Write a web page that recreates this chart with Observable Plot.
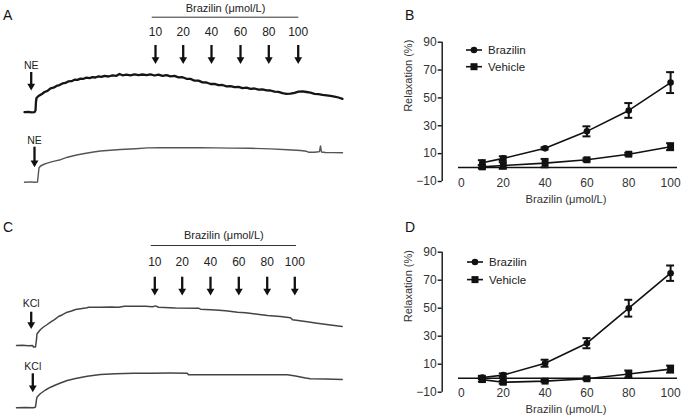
<!DOCTYPE html>
<html><head><meta charset="utf-8">
<script src="https://cdn.jsdelivr.net/npm/d3@7"></script>
<script src="https://cdn.jsdelivr.net/npm/@observablehq/plot@0.6"></script>
<style>
body{margin:0;background:#fff;}
#fig{position:relative;width:685px;height:419px;background:#fff;font-family:"Liberation Sans",Arial,sans-serif;color:#222;overflow:hidden;}
.panel{position:absolute;}
.letter{position:absolute;font-size:14px;line-height:1;color:#111;}
</style></head><body><div id="fig"></div>
<script>
// ---------- DATA ----------
const concentrations = [10, 20, 40, 60, 80, 100];
const xTicks = [0, 20, 40, 60, 80, 100];
const yTicks = [-10, 10, 30, 50, 70, 90];

// Panel B (NE pre-contracted) relaxation %, mean and error
const brazilinB = [3.5, 6.6, 13.8, 26, 41, 61];
const brazilinBErr = [1.8, 1.5, 0.8, 3.6, 5.3, 7.5];
const vehicleB = [0.5, 1.5, 3.2, 5.6, 9.6, 15];
const vehicleBErr = [1.2, 2.4, 3, 1, 1, 2.5];

// Panel D (KCl pre-contracted)
const brazilinD = [0.5, 2.2, 10.7, 25, 50, 75];
const brazilinDErr = [1.2, 1.2, 2.5, 3.6, 6, 5.5];
const vehicleD = [-1, -2.9, -2.1, -0.4, 3, 6.5];
const vehicleDErr = [1.5, 1, 0.8, 0.8, 2.5, 2.5];

// Panel A traces: [time, tension]
const traceA_brazilin = [[24,93.3],[28,93.6],[31,93.1],[34,93.4],[35,95],[35.5,104],[36,107.5],[38,109.5],[41,111.2],[44,113.5],[47,114.6],[50,117.2],[53,117.8],[56,119.6],[59,120.4],[62,122.1],[65,122.6],[68,124.2],[71,124.3],[74,125.8],[77,125.6],[80,126.9],[83,126.7],[86,127.9],[89,127.4],[92,128.4],[95,128.0],[98,129.2],[101,128.6],[104,129.6],[108,129.0],[112,130.1],[116,129.7],[119,131.5],[122,130.2],[126,130.8],[130,130.1],[134,131.2],[138,130.4],[142,131.0],[146,130.3],[150,131.2],[154,130.0],[158,130.9],[162,129.6],[166,130.4],[170,129.2],[174,129.6],[178,128.2],[182,128.3],[186,126.7],[190,126.6],[194,124.8],[198,124.9],[202,123.1],[206,123.0],[210,121.5],[214,121.7],[218,120.3],[222,120.5],[226,119.2],[230,119.4],[234,118.3],[238,118.6],[242,117.4],[246,117.8],[250,116.6],[254,117.0],[258,115.8],[262,116.1],[266,115.2],[270,115.0],[274,113.9],[278,113.6],[282,112.3],[286,111.6],[290,111.9],[294,112.6],[298,113.8],[302,114.2],[306,113.5],[310,112.8],[314,111.7],[318,111.4],[322,110.6],[326,110.2],[330,109.6],[334,108.9],[338,108.0],[342,106.6]];
const traceA_vehicle = [[24,23.3],[30,23.6],[34,23.2],[37,23.5],[38,33],[38.5,37.5],[40,39.5],[43,41],[46,42.2],[50,43.3],[55,44.6],[60,45.8],[67,48.3],[75,50.3],[80,51.2],[87,52.5],[93,53.5],[100,54.5],[110,55.3],[120,56],[135,56.8],[147,57.6],[160,57.7],[175,57.8],[200,57.7],[215,57.6],[230,57.4],[250,57.2],[270,56.6],[287,55.7],[300,55],[306,54.2],[308,53.3],[314,53.3],[318,53.8],[319,54],[320,59.5],[321,53.5],[325,53],[333,52.9],[342,52.7]];

// Panel C traces
const traceC_brazilin = [[16,74],[22,74.2],[28,73.8],[32,74.1],[33,72.5],[35,72.5],[36,80],[36.5,85.7],[38,87.5],[40,90],[43,92.5],[46,94.5],[50,97.3],[54,99.8],[58,103],[62,104.8],[66.7,107.3],[71,108.5],[75,110],[80,110.8],[86.7,111.7],[88,112.3],[100,112.3],[110,112.5],[118,112.3],[124,113.3],[128,113.3],[133,113.3],[145,113.3],[152,112.8],[155,113.6],[158,112.3],[175,111.5],[198,111.3],[200,110.3],[215,109.5],[225,108.7],[237,107.3],[245,106.8],[255,105.5],[267,104],[280,103],[290,101.7],[292,99.7],[305,98],[316.7,96.3],[330,94.5],[341.7,93]];
const traceC_vehicle = [[16,11.7],[25,11.9],[33,11.7],[35,12.5],[36,20],[36.5,22.3],[38,24],[40,26],[45,29.5],[50,32.3],[55,34.5],[60,36.5],[66.7,39],[75,41],[86.7,43.3],[100,45],[115,45.8],[133,46.3],[150,46.3],[170,46.5],[186.7,46.3],[188,44.7],[220,44.7],[250,44.7],[286.7,44.7],[295,43.5],[305,41.5],[310,40.7],[325,40.5],[341.7,40]];

// Addition times of brazilin doses
const doseTimesA = [155, 182.7, 211, 240, 268.3, 297.7];
const doseTimesC = [154.3, 181.7, 210, 238.3, 266.7, 294.3];

// Agonist additions
const agonistA = [{label: "NE", t: 30.7, top: 133, bottom: 115, textY: 140}, {label: "NE", t: 34, top: 58.3, bottom: 38.3, textY: 65}];
const agonistC = [{label: "KCl", t: 30.7, top: 107.3, bottom: 90.7, textY: 116.3}, {label: "KCl", t: 32.3, top: 45.7, bottom: 27.3, textY: 53}];

// Annotation levels (tension units)
const levelsA = {title: 196.7, bracket: 188.3, bracketFrom: 151.7, bracketTo: 298.3, label: 173.3, arrowTop: 160, arrowBottom: 141.7};
const levelsC = {title: 184, bracket: 174, bracketFrom: 150.7, bracketTo: 296, label: 157.3, arrowTop: 142.3, arrowBottom: 124};

const fig = document.getElementById("fig");
function place(el, left, top) {
  const d = document.createElement("div");
  d.className = "panel"; d.style.left = left + "px"; d.style.top = top + "px";
  d.appendChild(el); fig.appendChild(d); return d;
}
const ink = "#111";
const font = "Liberation Sans, Arial, sans-serif";

function arrowMarks(items, fill) {
  return [
    Plot.ruleX(items, {x: "t", y1: "top", y2: d => d.bottom + 4, stroke: fill, strokeWidth: 2.3}),
    Plot.dot(items, {x: "t", y: "bottom", symbol: "triangle", rotate: 180, r: 2.9, fill: fill, stroke: "none", dy: -4.4})
  ];
}

function traceChart(upper, lower, upperStyle, lowerStyle, doseTimes, levels, agonists, height) {
  const doses = concentrations.map((c, i) => ({c, t: doseTimes[i], top: levels.arrowTop, bottom: levels.arrowBottom}));
  const toRows = tr => tr.map(([t, v]) => ({t, v}));
  return Plot.plot({
    width: 360, height, margin: 0,
    x: {domain: [0, 360], axis: null},
    y: {domain: [0, height], axis: null},
    style: {background: "transparent", overflow: "visible"},
    marks: [
      Plot.line(toRows(upper), {x: "t", y: "v", ...upperStyle}),
      Plot.line(toRows(lower), {x: "t", y: "v", ...lowerStyle}),
      Plot.ruleY([levels.bracket], {x1: levels.bracketFrom, x2: levels.bracketTo, stroke: "#333", strokeWidth: 1}),
      Plot.text(["Brazilin (μmol/L)"], {x: (levels.bracketFrom + levels.bracketTo) / 2, y: levels.title, fontSize: 11, fill: "#222", fontFamily: font}),
      Plot.text(doses, {x: "t", y: () => levels.label, text: d => String(d.c), fontSize: 12, fill: "#222", fontFamily: font}),
      ...arrowMarks(doses, ink),
      Plot.text(agonists, {x: "t", y: "textY", text: "label", fontSize: 10.5, fill: "#222", fontFamily: font}),
      ...arrowMarks(agonists, ink)
    ]
  });
}

const chartA = traceChart(traceA_brazilin, traceA_vehicle,
  {stroke: "#151515", strokeWidth: 2.3}, {stroke: "#555", strokeWidth: 1.4},
  doseTimesA, levelsA, agonistA, 205);
place(chartA, 0, 0);

const chartC = traceChart(traceC_brazilin, traceC_vehicle,
  {stroke: "#444", strokeWidth: 1.5}, {stroke: "#444", strokeWidth: 1.5},
  doseTimesC, levelsC, agonistC, 209);
place(chartC, 0, 210);

function doseChart(brz, brzErr, veh, vehErr, height, marginTop, marginBottom) {
  const xDomain = [-1.4, 103.3];
  const capHalf = 1.9;
  const rowsB = concentrations.map((c, i) => ({c, v: brz[i], e: brzErr[i]}));
  const rowsV = concentrations.map((c, i) => ({c, v: veh[i], e: vehErr[i]}));
  const errMarks = rows => [
    Plot.ruleX(rows, {x: "c", y1: d => d.v - d.e, y2: d => d.v + d.e, stroke: ink, strokeWidth: 2}),
    Plot.ruleY(rows, {y: d => d.v + d.e, x1: d => d.c - capHalf, x2: d => d.c + capHalf, stroke: ink, strokeWidth: 2}),
    Plot.ruleY(rows, {y: d => d.v - d.e, x1: d => d.c - capHalf, x2: d => d.c + capHalf, stroke: ink, strokeWidth: 2})
  ];
  return Plot.plot({
    width: 295, height, marginLeft: 68, marginRight: 8, marginTop, marginBottom,
    x: {domain: xDomain},
    y: {domain: [-10, 90]},
    style: {background: "transparent", overflow: "visible", fontFamily: font},
    marks: [
      Plot.ruleY([0], {stroke: ink, strokeWidth: 1.6}),
      Plot.ruleX([xDomain[0]], {dx: -16.3, stroke: ink, strokeWidth: 1.4}),
      Plot.axisY({ticks: yTicks, dx: -16.3, tickSize: 4, tickPadding: 1.5, label: null, fontSize: 12, color: "#333", stroke: ink, strokeWidth: 1.4}),
      Plot.axisX({ticks: xTicks, tickSize: 0, tickPadding: 0, dy: -3.5, label: null, fontSize: 12, color: "#333"}),
      Plot.text(["Relaxation (%)"], {frameAnchor: "left", rotate: -90, dx: -50, fontSize: 11, fill: "#333"}),
      Plot.text(["Brazilin (μmol/L)"], {frameAnchor: "bottom", dy: 21, dx: -2, fontSize: 11.2, fill: "#333"}),
      Plot.line(rowsB, {x: "c", y: "v", stroke: ink, strokeWidth: 1.6}),
      Plot.line(rowsV, {x: "c", y: "v", stroke: ink, strokeWidth: 1.6}),
      ...errMarks(rowsB),
      ...errMarks(rowsV),
      Plot.dot(rowsB, {x: "c", y: "v", r: 3.3, fill: ink, stroke: "none"}),
      Plot.dot(rowsV, {x: "c", y: "v", symbol: "square", r: 3.9, fill: ink, stroke: "none"})
    ]
  });
}

place(doseChart(brazilinB, brazilinBErr, vehicleB, vehicleBErr, 210, 41.7, 29), 390, 0);
place(doseChart(brazilinD, brazilinDErr, vehicleD, vehicleDErr, 209, 41.7, 27.3), 390, 210);

function legend(left, top, gap) {
  const d = document.createElement("div");
  d.style.cssText = `position:absolute;left:${left}px;top:${top}px;`;
  d.innerHTML = `<svg width="90" height="34" style="overflow:visible;font-family:'Liberation Sans',Arial,sans-serif">
    <line x1="0" x2="16" y1="6" y2="6" stroke="${ink}" stroke-width="1.6"/>
    <circle cx="8" cy="6" r="3.3" fill="${ink}"/>
    <text x="22" y="6" dy="0.36em" font-size="11.5" fill="#222">Brazilin</text>
    <line x1="0" x2="16" y1="${6+gap}" y2="${6+gap}" stroke="${ink}" stroke-width="1.6"/>
    <rect x="4.5" y="${2.5+gap}" width="7" height="7" fill="${ink}"/>
    <text x="22" y="${6+gap}" dy="0.36em" font-size="11.5" fill="#222">Vehicle</text>
  </svg>`;
  fig.appendChild(d);
}
legend(466, 44, 16.7);
legend(467, 255.7, 17.6);

[["A", 3, 8], ["B", 405, 8], ["C", 3, 219.8], ["D", 405, 219.8]].forEach(([t, x, y]) => {
  const l = document.createElement("div");
  l.className = "letter"; l.textContent = t; l.style.left = x + "px"; l.style.top = y + "px";
  fig.appendChild(l);
});
</script></body></html>
